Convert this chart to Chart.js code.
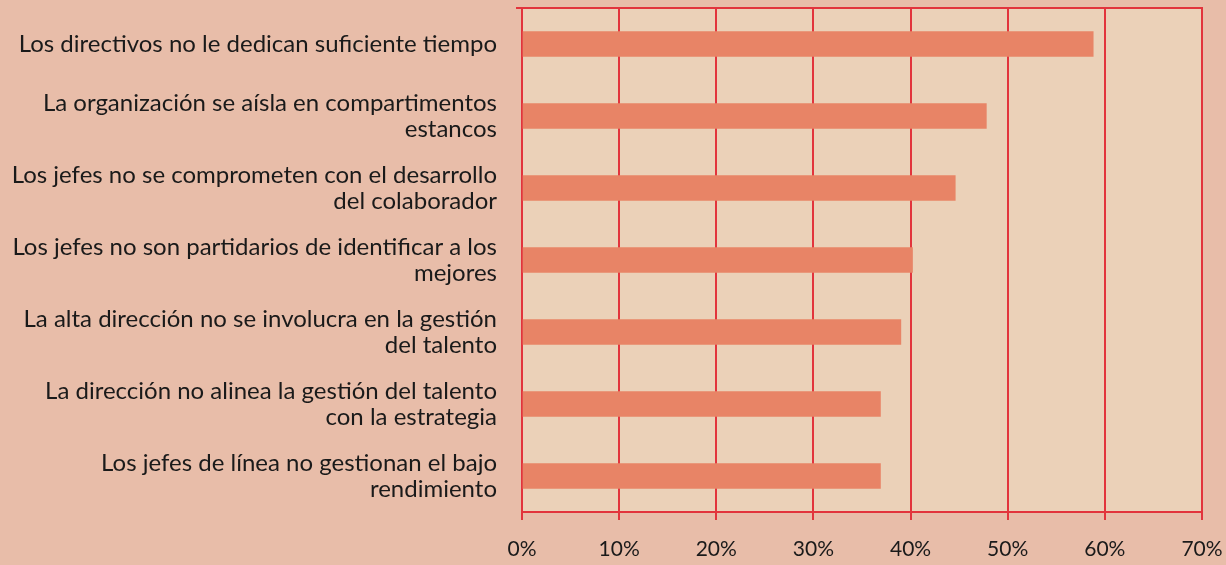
<!DOCTYPE html>
<html>
<head>
<meta charset="utf-8">
<script src="https://cdn.jsdelivr.net/npm/chart.js@4"></script>
<style>
  html, body { margin: 0; padding: 0; background: #E8BDA9; }
  #wrap { width: 1226px; height: 565px; position: relative; }
</style>
</head>
<body>
<div id="wrap"><canvas id="c" width="1226" height="565"></canvas></div>
<script>
const categories = [
  ["Los directivos no le dedican suficiente tiempo"],
  ["La organización se aísla en compartimentos", "estancos"],
  ["Los jefes no se comprometen con el desarrollo", "del colaborador"],
  ["Los jefes no son partidarios de identificar a los", "mejores"],
  ["La alta dirección no se involucra en la gestión", "del talento"],
  ["La dirección no alinea la gestión del talento", "con la estrategia"],
  ["Los jefes de línea no gestionan el bajo", "rendimiento"]
];
const values = [58.8, 47.8, 44.6, 40.2, 39.0, 36.9, 36.9];
const tickValues = [0, 10, 20, 30, 40, 50, 60, 70];

const RED = '#E2343C';
const FONT = "'Lato', 'Open Sans', sans-serif";

function zeroPad(scale) {
  scale.paddingTop = 0; scale.paddingBottom = 0;
  scale.paddingLeft = 0; scale.paddingRight = 0;
}

const decor = {
  id: 'decor',
  beforeDraw(chart) {
    const {ctx, chartArea: a} = chart;
    ctx.save();
    ctx.fillStyle = '#EBD1B8';
    ctx.fillRect(a.left, a.top, a.right - a.left, a.bottom - a.top);
    ctx.restore();
  },
  afterDraw(chart) {
    const {ctx, chartArea: a} = chart;
    ctx.save();
    ctx.strokeStyle = RED;
    ctx.lineWidth = 2;
    ctx.beginPath();
    ctx.moveTo(a.left - 6, a.top);
    ctx.lineTo(a.right + 1, a.top);
    ctx.stroke();
    ctx.restore();
  }
};

new Chart(document.getElementById('c'), {
  type: 'bar',
  data: {
    labels: categories,
    datasets: [{
      data: values,
      backgroundColor: '#E88466',
      borderWidth: 0,
      barThickness: 25
    }]
  },
  options: {
    indexAxis: 'y',
    responsive: false,
    animation: false,
    devicePixelRatio: 1,
    layout: { padding: { left: 0, top: 8, right: 24, bottom: 0 } },
    plugins: { legend: { display: false }, tooltip: { enabled: false } },
    scales: {
      x: {
        min: 0, max: 70,
        afterBuildTicks(scale) { scale.ticks = tickValues.map(v => ({ value: v })); },
        afterFit(scale) { scale.height = 53; zeroPad(scale); },
        grid: { color: RED, lineWidth: 2, tickLength: 8, drawTicks: true },
        border: { color: RED, width: 2 },
        ticks: {
          color: '#1a1a1a',
          font: { family: FONT, size: 21 },
          padding: 17,
          maxRotation: 0,
          callback: v => v + '%'
        }
      },
      y: {
        afterFit(scale) { scale.width = 522; zeroPad(scale); },
        grid: { display: false },
        border: { color: RED, width: 2 },
        ticks: {
          color: '#1a1a1a',
          font: { family: FONT, size: 24, lineHeight: 1.1 },
          padding: 17,
          crossAlign: 'near'
        }
      }
    }
  },
  plugins: [decor]
});
</script>
</body>
</html>
